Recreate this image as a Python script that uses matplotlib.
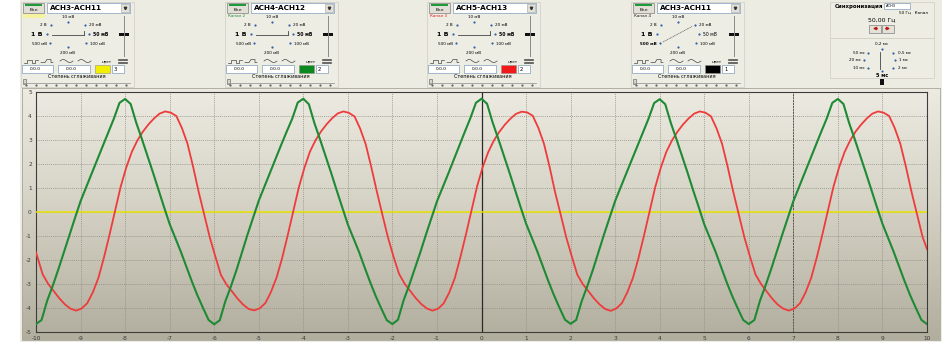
import numpy as np
import matplotlib
matplotlib.use('Agg')
import matplotlib.pyplot as plt
from matplotlib.patches import Rectangle
from matplotlib.colors import LinearSegmentedColormap

plt.rcParams['font.family'] = ['DejaVu Sans']
plt.rcParams['axes.unicode_minus'] = False

# ---- data read from the screen ----
# green trace, sampled every 0.125 from -10 to 10 (two rows = one period of 4)
green_y = [
    -4.67, -4.50, -3.70, -3.08, -2.40, -1.68, -0.95, -0.25, 0.45, 1.03, 1.60, 2.18, 2.75, 3.33, 3.90, 4.55,
    4.71, 4.50, 3.72, 3.05, 2.35, 1.65, 0.92, 0.20, -0.50, -1.08, -1.65, -2.28, -2.90, -3.48, -4.00, -4.50,
    -4.68, -4.51, -3.72, -3.10, -2.42, -1.67, -0.93, -0.23, 0.47, 1.05, 1.62, 2.20, 2.78, 3.34, 3.88, 4.56,
    4.72, 4.49, 3.70, 3.03, 2.33, 1.63, 0.90, 0.19, -0.52, -1.09, -1.66, -2.30, -2.92, -3.50, -4.02, -4.51,
    -4.67, -4.49, -3.69, -3.06, -2.38, -1.69, -0.96, -0.26, 0.44, 1.01, 1.58, 2.17, 2.76, 3.34, 3.91, 4.55,
    4.72, 4.51, 3.73, 3.06, 2.36, 1.66, 0.94, 0.22, -0.48, -1.06, -1.63, -2.26, -2.88, -3.46, -3.99, -4.49,
    -4.66, -4.50, -3.71, -3.09, -2.41, -1.68, -0.94, -0.24, 0.46, 1.04, 1.61, 2.18, 2.74, 3.32, 3.89, 4.54,
    4.70, 4.49, 3.71, 3.04, 2.34, 1.64, 0.91, 0.21, -0.51, -1.08, -1.64, -2.28, -2.91, -3.49, -4.01, -4.50,
    -4.67, -4.50, -3.70, -3.07, -2.39, -1.67, -0.95, -0.25, 0.45, 1.03, 1.60, 2.19, 2.77, 3.34, 3.90, 4.55,
    4.71, 4.50, 3.72, 3.05, 2.35, 1.65, 0.93, 0.21, -0.49, -1.07, -1.65, -2.28, -2.90, -3.48, -4.00, -4.50,
    -4.67]
green_x = np.linspace(-10, 10, len(green_y))

# red trace: first point at -10, then every 0.125 from -9.85 to 9.9, last point at 10
red_y = [
    -1.68,
    -2.60, -3.00, -3.30, -3.60, -3.85, -4.03, -4.11, -4.02, -3.80, -3.35, -2.75, -1.90, -0.95, 0.05, 1.05, 1.85,
    2.50, 2.98, 3.35, 3.65, 3.90, 4.10, 4.19, 4.14, 4.00, 3.50, 2.85, 1.90, 0.85, -0.10, -1.05, -1.85,
    -2.62, -3.02, -3.31, -3.61, -3.86, -4.04, -4.10, -4.01, -3.79, -3.33, -2.73, -1.92, -0.97, 0.03, 1.03, 1.84,
    2.52, 2.99, 3.36, 3.66, 3.91, 4.11, 4.19, 4.13, 3.98, 3.48, 2.83, 1.88, 0.86, -0.11, -1.06, -1.86,
    -2.58, -2.99, -3.29, -3.59, -3.84, -4.02, -4.11, -4.03, -3.81, -3.36, -2.76, -1.89, -0.94, 0.06, 1.06, 1.86,
    2.49, 2.97, 3.34, 3.64, 3.89, 4.09, 4.18, 4.15, 4.01, 3.51, 2.86, 1.91, 0.84, -0.09, -1.04, -1.84,
    -2.61, -3.01, -3.30, -3.60, -3.85, -4.04, -4.12, -4.02, -3.80, -3.34, -2.74, -1.91, -0.96, 0.04, 1.04, 1.85,
    2.51, 2.98, 3.35, 3.65, 3.90, 4.10, 4.19, 4.14, 3.99, 3.49, 2.84, 1.89, 0.85, -0.10, -1.05, -1.85,
    -2.60, -3.00, -3.31, -3.61, -3.86, -4.03, -4.11, -4.02, -3.80, -3.35, -2.75, -1.90, -0.95, 0.05, 1.05, 1.85,
    2.50, 2.98, 3.36, 3.65, 3.90, 4.10, 4.19, 4.14, 4.00, 3.50, 2.85, 1.90, 0.86, -0.08, -1.03,
    -1.55]
red_x = np.concatenate([[-10], -9.85 + 0.125 * np.arange(len(red_y) - 2), [10]])

x_ticks = list(range(-10, 11))
y_ticks = list(range(-5, 6))

channels = [
    # left px, source, sub-label, sub colour, trace colour, spin value
    (22, 'ACH3-ACH11', '', '#000000', '#F2EE00', '3'),
    (226, 'ACH4-ACH12', 'Канал 2', '#1F8A35', '#0A8A1E', '2'),
    (428, 'ACH5-ACH13', 'Канал 3', '#E02020', '#F01818', '2'),
    (632, 'ACH3-ACH11', 'Канал 4', '#202020', '#000000', '1'),
]
volt_labels = ['10 мВ', '20 мВ', '50 мВ', '100 мВ', '200 мВ', '500 мВ', '1 В', '2 В']
time_labels = ['0,2 мс', '0,5 мс', '1 мс', '2 мс', '5 мс', '10 мс', '20 мс', '50 мс']

fig = plt.figure(figsize=(9.48, 3.47), dpi=100)
fig.patch.set_facecolor('white')

gui = fig.add_axes([0, 0, 1, 1])
gui.axis('off')
gui.add_patch(Rectangle((20, 0), 922, 342, fc='#EDECE2', ec='none'))
bg = LinearSegmentedColormap.from_list('bg', ['#EDEBE2', '#D3D0C3', '#B2AE9E'])
gui.imshow(np.linspace(0, 1, 128).reshape(-1, 1), extent=(22, 940, 340, 88), aspect='auto', cmap=bg, zorder=1)
gui.add_patch(Rectangle((22, 88), 918, 252, fc='none', ec='#A8A69A', lw=0.6, zorder=2))

dot = '#2F63A8'


def channel_box(ox, name, sub, subcol, col, spin, diag):
    gui.add_patch(Rectangle((ox - 1, 2), 113, 85, fc='#EEEDE4', ec='#CFCDC2', lw=0.5))
    # on button
    gui.add_patch(Rectangle((ox + 1, 3), 21, 10, fc='#E2E0D6', ec='#808080', lw=0.5))
    gui.add_patch(Rectangle((ox + 3, 3.6), 17, 2.2, fc='#1F9A3A', ec='none'))
    gui.text(ox + 11.5, 9.8, 'Вкл', fontsize=3.2, ha='center', va='center')
    # source dropdown
    gui.add_patch(Rectangle((ox + 25, 3), 83, 10, fc='white', ec='#7F9DB9', lw=0.5))
    gui.text(ox + 28, 8.2, name, fontsize=5.2, weight='bold', va='center')
    gui.add_patch(Rectangle((ox + 99, 4), 8, 8, fc='#E4E2D8', ec='#A0A0A0', lw=0.4))
    gui.plot([ox + 103], [8.2], marker='v', ms=1.8, color='#333333')
    if sub:
        gui.text(ox + 2, 16.2, sub, fontsize=3.0, color=subcol, va='center')
    else:
        gui.add_patch(Rectangle((ox + 1, 13.5), 22, 4, fc='#F6F3A0', ec='none'))
    # attenuator dial
    pos = [(46, 22), (63, 25), (67, 34), (64, 43), (46, 47), (28, 43), (25, 34), (29, 25)]
    for (px, py) in pos:
        gui.plot([ox + px], [py], 'o', ms=1.6, color=dot, mec='none')
    gui.text(ox + 46, 16.5, volt_labels[0], fontsize=3.0, ha='center', va='center')
    gui.text(ox + 67, 24.5, volt_labels[1], fontsize=3.0, va='center')
    gui.text(ox + 71, 34, volt_labels[2], fontsize=3.3, va='center', weight='bold' if not diag else 'normal')
    gui.text(ox + 68, 43.5, volt_labels[3], fontsize=3.0, va='center')
    gui.text(ox + 46, 52.5, volt_labels[4], fontsize=3.0, ha='center', va='center')
    gui.text(ox + 25, 43.5, volt_labels[5], fontsize=3.0, ha='right', va='center', weight='bold' if diag else 'normal')
    gui.text(ox + 21, 34, volt_labels[6], fontsize=4.6, ha='right', va='center', weight='bold')
    gui.text(ox + 25, 24.5, volt_labels[7], fontsize=3.0, ha='right', va='center')
    if diag:
        gui.plot([ox + 31, ox + 60], [42, 26.5], color='#555555', lw=0.5, ls=(0, (1.5, 0.8)))
    else:
        gui.plot([ox + 30, ox + 62], [34.5, 34.5], color='#444444', lw=0.6)
        gui.plot([ox + 62, ox + 62], [30.5, 35], color='#444444', lw=0.6)
    # level slider
    gui.plot([ox + 102, ox + 102], [16, 56], color='#8A8A8A', lw=0.7)
    gui.add_patch(Rectangle((ox + 97, 32.5), 10, 3.5, fc='#111111', ec='none'))
    # waveform icons
    iy = 62.5
    gui.plot(np.array([0, 3, 3, 8, 8, 11, 11, 14]) + ox + 2, [iy, iy, iy - 3, iy - 3, iy, iy, iy - 3, iy - 3],
             color='#333333', lw=0.45)
    gui.plot(np.array([0, 4, 4, 6, 6, 10, 10, 12]) + ox + 19, [iy, iy, iy, iy - 3, iy - 3, iy - 3, iy, iy],
             color='#333333', lw=0.45)
    t = np.linspace(0, 1, 20)
    gui.plot(ox + 38 + 13 * t, iy - 1.5 + 1.5 * np.sin(2 * np.pi * t + np.pi), color='#333333', lw=0.45)
    gui.plot(ox + 56 + 13 * t, iy - 1.5 - 1.5 * np.sin(2 * np.pi * t), color='#333333', lw=0.45)
    gui.text(ox + 80, 61.5, 'цвет', fontsize=3.0, va='center')
    for k in range(4):
        gui.plot([ox + 96, ox + 105], [59 + k * 1.3] * 2, color='#333333', lw=0.5)
    # inputs, colour swatch, spin
    gui.add_patch(Rectangle((ox, 65), 31, 8, fc='white', ec='#7F9DB9', lw=0.5))
    gui.add_patch(Rectangle((ox + 36, 65), 32, 8, fc='white', ec='#7F9DB9', lw=0.5))
    gui.text(ox + 8, 69, '0.0.0', fontsize=3.2, va='center')
    gui.text(ox + 44, 69, '0.0.0', fontsize=3.2, va='center')
    gui.add_patch(Rectangle((ox + 73, 64.5), 15, 8.5, fc=col, ec='#909090', lw=0.4))
    gui.add_patch(Rectangle((ox + 90, 65), 12, 8, fc='white', ec='#7F9DB9', lw=0.5))
    gui.text(ox + 92, 69, spin, fontsize=3.8, va='center')
    gui.text(ox + 55, 76.5, 'Степень сглаживания', fontsize=3.5, ha='center', va='center')
    # smoothing slider
    gui.plot([ox + 2, ox + 108], [83, 83], color='#9A9A9A', lw=0.6)
    for k in range(11):
        gui.plot([ox + 4 + k * 10], [85], 's', ms=0.6, color='#666666')
    gui.add_patch(Rectangle((ox + 1, 79), 3, 5, fc='#D8D6CC', ec='#555555', lw=0.4))


for i, (ox, name, sub, subcol, col, spin) in enumerate(channels):
    channel_box(ox, name, sub, subcol, col, spin, i == 3)

# timebase / sync panel
gui.add_patch(Rectangle((830, 2), 104, 36, fc='#EEEDE4', ec='#CFCDC2', lw=0.5))
gui.add_patch(Rectangle((830, 38), 104, 40, fc='#EEEDE4', ec='#CFCDC2', lw=0.5))
gui.text(835, 6.5, 'Синхронизация', fontsize=3.9, weight='bold', va='center')
gui.add_patch(Rectangle((884, 3), 26, 6, fc='white', ec='#7F9DB9', lw=0.5))
gui.text(886, 6, 'АСН3', fontsize=2.6, va='center')
gui.text(899, 12.5, '50 Гц   Канал', fontsize=3.0, va='center')
gui.text(882, 20, '50,00 Гц', fontsize=4.4, ha='center', va='center')
gui.add_patch(Rectangle((869, 24.5), 12, 8, fc='#E4E2D8', ec='#808080', lw=0.5))
gui.add_patch(Rectangle((882, 24.5), 12, 8, fc='#E4E2D8', ec='#808080', lw=0.5))
gui.annotate('', xy=(870, 28.5), xytext=(880, 28.5), arrowprops=dict(arrowstyle='-|>', color='#C01818', lw=1.0,
                                                                      mutation_scale=4))
gui.annotate('', xy=(893, 28.5), xytext=(883, 28.5), arrowprops=dict(arrowstyle='-|>', color='#C01818', lw=1.0,
                                                                      mutation_scale=4))
tpos = [(882, 48.5, 'center', 882, 44), (893, 52.5, 'left', 898, 52.5), (895, 60, 'left', 899, 60),
        (893, 67.5, 'left', 898, 68), (882, 71, 'center', 882, 75), (868, 67.5, 'right', 865, 68),
        (864, 60, 'right', 861, 60), (868, 52.5, 'right', 865, 52.5)]
for lab, (dx, dy, ha, tx, ty) in zip(time_labels, tpos):
    gui.plot([dx], [dy], 'o', ms=1.6, color=dot, mec='none')
    gui.text(tx, ty, lab, fontsize=3.0 if lab != '5 мс' else 3.6, ha=ha, va='center',
             weight='bold' if lab == '5 мс' else 'normal')
gui.plot([880.5, 880.5], [52, 69], color='#444444', lw=0.6)
gui.add_patch(Rectangle((880, 78.5), 4.5, 6, fc='#111111', ec='none'))

gui.set_xlim(0, 948)
gui.set_ylim(347, 0)

# ---- oscilloscope screen ----
ax = fig.add_axes([36 / 948, 15 / 347, 891 / 948, 240 / 347])
ax.set_facecolor('none')
ax.set_xlim(-10, 10)
ax.set_ylim(-5, 5)
ax.set_xticks(x_ticks)
ax.set_yticks(y_ticks)
ax.grid(True, color='#8E8B80', linestyle=(0, (1.5, 1.5)), linewidth=0.5)
ax.axvline(0, color='#2A2A2A', lw=0.9, zorder=2)
ax.axvline(7, color='#55544E', lw=0.7, ls=(0, (2, 1)), zorder=2)
ax.axhline(0, color='#E8E400', lw=1.1, zorder=3)
ax.plot(red_x, red_y, color='#EE3B3B', lw=1.3, zorder=4)
ax.plot(green_x, green_y, color='#1E8A34', lw=1.5, zorder=5)
ax.tick_params(labelsize=4.2, colors='#3A3A3A', length=0, pad=3)
for s in ax.spines.values():
    s.set_color('#3C3C3C')
    s.set_linewidth(0.8)

fig.savefig('out.png', dpi=100)
